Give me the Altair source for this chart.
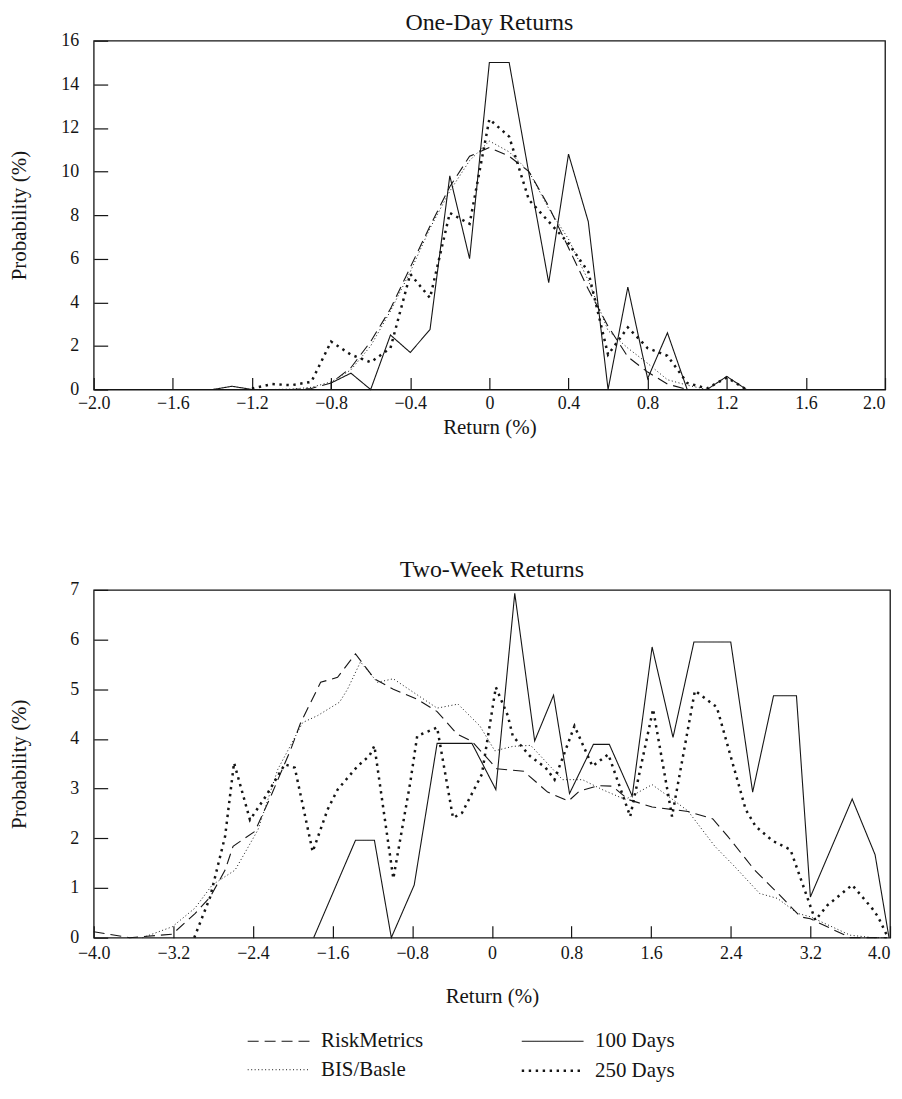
import altair as alt
import pandas as pd

FONT = "'Liberation Serif', 'DejaVu Serif', serif"
INK = "#151515"

# legend order is filled column by column
SERIES = ["RiskMetrics", "BIS/Basle", "100 Days", "250 Days"]

# ---------------- One-Day Returns ----------------
od_rm_x = [-1.1, -1.0, -0.9, -0.8, -0.7, -0.6, -0.5, -0.4, -0.3, -0.2, -0.1, 0.0,
           0.1, 0.2, 0.3, 0.4, 0.5, 0.6, 0.7, 0.8, 0.9, 1.0, 1.1]
od_rm_y = [0.0, 0.0, 0.05, 0.3, 1.0, 2.2, 3.7, 5.6, 7.5, 9.3, 10.7, 11.1,
           10.7, 10.0, 8.4, 6.5, 4.6, 2.9, 1.5, 0.8, 0.25, 0.0, 0.0]

od_bis_x = [-1.1, -1.0, -0.9, -0.8, -0.7, -0.6, -0.5, -0.4, -0.3, -0.2, -0.1, 0.0,
            0.1, 0.2, 0.3, 0.4, 0.5, 0.6, 0.7, 0.8, 0.9, 1.0, 1.1]
od_bis_y = [0.0, 0.02, 0.1, 0.35, 0.9, 2.0, 3.6, 5.4, 7.4, 9.1, 10.5, 11.4,
            10.9, 10.0, 8.3, 6.9, 5.0, 2.7, 1.9, 1.2, 0.45, 0.2, 0.0]

od_100_x = [-1.6, -1.4, -1.3, -1.2, -0.8, -0.8, -0.7, -0.6, -0.5, -0.4, -0.3, -0.2,
            -0.1, 0.0, 0.1, 0.2, 0.3, 0.4, 0.5, 0.6, 0.7, 0.8, 0.9, 1.0, 1.1, 1.2, 1.3]
od_100_y = [0.0, 0.0, 0.15, 0.0, 0.0, 0.3, 0.75, 0.0, 2.5, 1.7, 2.75, 9.8,
            6.0, 15.0, 15.0, 9.9, 4.9, 10.8, 7.7, 0.0, 4.7, 0.5, 2.6, 0.0, 0.0, 0.6, 0.0]

od_250_x = [-1.2, -1.1, -1.0, -0.9, -0.8, -0.7, -0.6, -0.5, -0.4, -0.3, -0.2, -0.1,
            0.0, 0.1, 0.2, 0.3, 0.4, 0.5, 0.6, 0.7, 0.8, 0.9, 1.0, 1.1, 1.2, 1.3]
od_250_y = [0.05, 0.25, 0.2, 0.35, 2.2, 1.6, 1.25, 1.9, 5.3, 4.2, 8.1, 7.6,
            12.4, 11.6, 8.7, 7.7, 6.7, 5.4, 1.6, 2.85, 1.9, 1.55, 0.3, 0.05, 0.55, 0.0]

od_xticks = [-2.0, -1.6, -1.2, -0.8, -0.4, 0.0, 0.4, 0.8, 1.2, 1.6, 2.0]
od_yticks = [0, 2, 4, 6, 8, 10, 12, 14, 16]

# ---------------- Two-Week Returns ----------------
tw_rm_x = [-4.0, -3.64, -3.21, -2.98, -2.83, -2.68, -2.60, -2.38, -2.22, -2.02, -1.92,
           -1.72, -1.55, -1.37, -1.18, -0.99, -0.75, -0.55, -0.35, -0.20, 0.05, 0.32,
           0.56, 0.77, 0.88, 1.07, 1.21, 1.37, 1.61, 1.97, 2.22, 2.37, 2.64, 2.89,
           3.10, 3.20, 3.60, 3.97]
tw_rm_y = [0.12, 0.0, 0.07, 0.49, 0.82, 1.36, 1.84, 2.14, 2.85, 3.79, 4.33,
           5.14, 5.24, 5.71, 5.21, 5.0, 4.80, 4.55, 4.10, 3.95, 3.40, 3.35,
           2.93, 2.75, 2.95, 3.06, 3.05, 2.78, 2.63, 2.54, 2.39, 2.04, 1.36, 0.86,
           0.42, 0.38, 0.0, 0.0]

tw_bis_x = [-3.51, -3.21, -2.98, -2.81, -2.58, -2.35, -2.15, -1.90, -1.75, -1.53, -1.45,
            -1.32, -1.15, -0.99, -0.79, -0.55, -0.34, -0.12, 0.03, 0.21, 0.39, 0.71,
            0.91, 1.11, 1.34, 1.61, 1.77, 1.97, 2.24, 2.44, 2.69, 2.87, 3.07, 3.20,
            3.60, 3.83, 3.98]
tw_bis_y = [0.0, 0.22, 0.6, 1.06, 1.36, 2.17, 3.39, 4.33, 4.47, 4.74, 5.0,
            5.55, 5.14, 5.21, 4.94, 4.62, 4.70, 4.26, 3.76, 3.85, 3.87, 3.18,
            3.18, 2.98, 2.78, 3.08, 2.85, 2.55, 1.84, 1.43, 0.89, 0.79, 0.49, 0.42,
            0.05, 0.0, 0.0]

tw_100_x = [-1.79, -1.37, -1.18, -1.01, -0.78, -0.55, -0.20, 0.04, 0.23, 0.43, 0.62,
            0.78, 1.02, 1.18, 1.41, 1.61, 1.82, 2.03, 2.40, 2.62, 2.83, 3.06, 3.20,
            3.62, 3.85, 3.99]
tw_100_y = [0.0, 1.96, 1.96, 0.0, 1.06, 3.91, 3.91, 2.98, 6.93, 3.96, 4.88,
            2.90, 3.89, 3.89, 2.85, 5.85, 4.03, 5.95, 5.95, 2.93, 4.87, 4.87, 0.82,
            2.79, 1.67, 0.0]

tw_250_x = [-2.99, -2.83, -2.68, -2.59, -2.43, -2.27, -2.08, -1.98, -1.80, -1.65, -1.55,
            -1.35, -1.23, -1.18, -0.99, -0.82, -0.75, -0.55, -0.39, -0.30, -0.10, 0.04,
            0.16, 0.21, 0.38, 0.54, 0.63, 0.83, 1.01, 1.17, 1.39, 1.62, 1.81, 2.04,
            2.26, 2.55, 2.65, 2.82, 3.00, 3.25, 3.37, 3.62, 3.82, 3.88, 3.98]
tw_250_y = [0.0, 0.82, 2.04, 3.52, 2.37, 2.85, 3.49, 3.42, 1.73, 2.58, 2.98,
            3.45, 3.66, 3.86, 1.19, 3.12, 4.06, 4.23, 2.41, 2.51, 3.29, 5.04,
            4.47, 4.06, 3.66, 3.42, 3.18, 4.26, 3.45, 3.69, 2.44, 4.60, 2.44, 4.97,
            4.64, 2.58, 2.24, 1.95, 1.77, 0.35, 0.65, 1.06, 0.59, 0.42, 0.0]

tw_xticks = [-4.0, -3.2, -2.4, -1.6, -0.8, 0.0, 0.8, 1.6, 2.4, 3.2, 4.0]
tw_yticks = [0, 1, 2, 3, 4, 5, 6, 7]


def long_frame(series_map):
    rows = []
    for name, (xs, ys) in series_map.items():
        for i, (x, y) in enumerate(zip(xs, ys)):
            rows.append({"series": name, "ret": x, "prob": y, "i": i})
    return pd.DataFrame(rows)


od_df = long_frame({
    "RiskMetrics": (od_rm_x, od_rm_y),
    "100 Days": (od_100_x, od_100_y),
    "BIS/Basle": (od_bis_x, od_bis_y),
    "250 Days": (od_250_x, od_250_y),
})
tw_df = long_frame({
    "RiskMetrics": (tw_rm_x, tw_rm_y),
    "100 Days": (tw_100_x, tw_100_y),
    "BIS/Basle": (tw_bis_x, tw_bis_y),
    "250 Days": (tw_250_x, tw_250_y),
})

dash_scale = alt.Scale(domain=SERIES, range=[[11, 6], [1, 2.5], [1, 0], [2.4, 4.6]])
width_scale = alt.Scale(type="ordinal", domain=SERIES, range=[1.1, 1.0, 1.1, 2.5])

legend = alt.Legend(
    title=None, orient="none", legendX=174, legendY=993, columns=2, padding=0,
    symbolType="M-3.1,0H3.1", symbolSize=400, symbolStrokeColor=INK,
    labelFont=FONT, labelFontSize=21, labelColor=INK, labelOffset=31,
    columnPadding=93, rowPadding=7,
)

LABEL_EXPR = "datum.value == 0 ? '0' : replace(format(datum.value, '.1f'), '-', '\u2013')"
LAST_LABEL_ALIGN = {"condition": {"test": "datum.value == 2 || datum.value == 4",
                                  "value": "right"},
                    "value": "center"}


def panel(df, title, xdom, xticks, ydom, yticks, w, h, xlabel_pad, xtitle_pad,
          ytitle_pad, title_offset):
    x_axis = alt.Axis(
        values=xticks, labelExpr=LABEL_EXPR, offset=-12, tickSize=12, domain=False,
        grid=False, labelPadding=xlabel_pad, title="Return (%)", titlePadding=xtitle_pad,
        labelFont=FONT, labelFontSize=18, titleFont=FONT, titleFontSize=21,
        titleFontWeight="normal", tickColor=INK, labelColor=INK, titleColor=INK,
        labelOverlap=False, labelFlush=False, labelAlign=LAST_LABEL_ALIGN, tickWidth=1.2,
    )
    y_axis = alt.Axis(
        values=yticks, format="d", offset=-14, tickSize=14, domain=False, grid=False,
        labelPadding=15, title="Probability (%)", titlePadding=ytitle_pad,
        labelFont=FONT, labelFontSize=18, titleFont=FONT, titleFontSize=21,
        titleFontWeight="normal", tickColor=INK, labelColor=INK, titleColor=INK,
        labelOverlap=False, labelFlush=False, tickWidth=1.2,
    )
    return (
        alt.Chart(df)
        .mark_line(color=INK)
        .encode(
            x=alt.X("ret:Q", scale=alt.Scale(domain=xdom, nice=False, zero=False), axis=x_axis),
            y=alt.Y("prob:Q", scale=alt.Scale(domain=ydom, nice=False), axis=y_axis),
            strokeDash=alt.StrokeDash("series:N", scale=dash_scale, legend=legend, sort=SERIES),
            strokeWidth=alt.StrokeWidth("series:N", scale=width_scale, legend=legend, sort=SERIES),
            order=alt.Order("i:Q"),
        )
        .properties(
            width=w, height=h,
            title=alt.TitleParams(title, font=FONT, fontSize=24, fontWeight="normal",
                                  color=INK, offset=title_offset),
        )
    )


top = panel(od_df, "One-Day Returns", [-2.0, 2.0], od_xticks, [0, 16], od_yticks,
            794, 350, 5, 4, 31, -3)
bottom = panel(tw_df, "Two-Week Returns", [-4.0, 4.0], tw_xticks, [0, 7], tw_yticks,
               799, 349, 7, 23, 40, -1)

chart = (
    alt.vconcat(top, bottom, spacing=119)
    .properties(padding=0, background="white")
    .configure_view(stroke=INK, strokeWidth=1.3)
)

chart.save("out.html", embed_options={"renderer": "svg", "actions": False})
